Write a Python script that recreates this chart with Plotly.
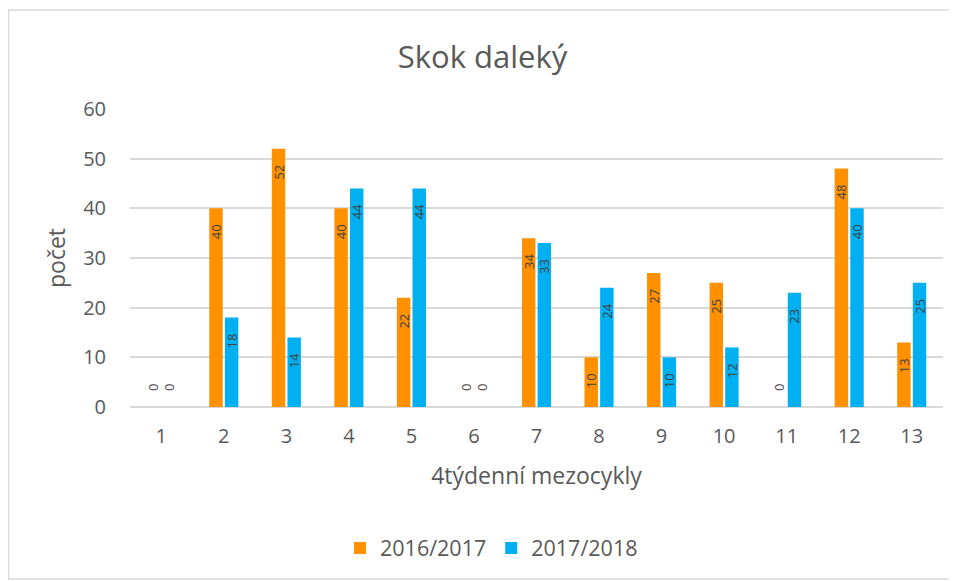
import plotly.graph_objects as go

categories = ["1", "2", "3", "4", "5", "6", "7", "8", "9", "10", "11", "12", "13"]
s1_name = "2016/2017"
s1_values = [0, 40, 52, 40, 22, 0, 34, 10, 27, 25, 0, 48, 13]
s2_name = "2017/2018"
s2_values = [0, 18, 14, 44, 44, 0, 33, 24, 10, 12, 23, 40, 25]
y_ticks = [0, 10, 20, 30, 40, 50, 60]

FONT = "'Open Sans', sans-serif"
GRAY = "#595959"
PAD = "\u2002\u2002"


def bar(name, vals, color):
    return go.Bar(
        name=name, x=categories, y=vals,
        marker=dict(color=color, line=dict(width=0)),
        text=[(PAD + str(v)) if v == 0 else (str(v) + PAD) for v in vals],
        textposition=["outside" if v == 0 else "inside" for v in vals],
        insidetextanchor="end",
        textangle=-90,
        textfont=dict(family=FONT, size=13, color="#404040"),
        constraintext="none",
        cliponaxis=False,
    )


fig = go.Figure([bar(s1_name, s1_values, "#FF9000"), bar(s2_name, s2_values, "#00B0F0")])

OFF = 8  # page body margin
W, H = 957 - OFF, 581 - OFF
L, T = 130 - OFF, 109 - OFF
PLOT_R, PLOT_B = 943 - OFF, 407 - OFF
R, B = W - PLOT_R, H - PLOT_B
pw, ph = W - L - R, H - T - B


def px_x(p):
    return (p - OFF - L) / pw


def px_y(p):
    return (PLOT_B - (p - OFF)) / ph


fig.update_layout(
    width=W, height=H,
    margin=dict(l=L, r=R, t=T, b=B),
    paper_bgcolor="white", plot_bgcolor="white",
    font=dict(family=FONT, color=GRAY),
    title=dict(text="Skok daleký", x=0.5, xanchor="center", y=1 - (57 - OFF) / H, yanchor="middle",
               font=dict(size=31, color=GRAY, family=FONT)),
    barmode="group", bargap=0.5, bargroupgap=0.14,
    showlegend=True,
    legend=dict(orientation="h", x=px_x(340), xanchor="left", y=px_y(548), yanchor="middle",
                font=dict(size=21.5, color=GRAY, family=FONT), traceorder="normal"),
    xaxis=dict(
        type="category", showgrid=False, showline=False, ticks="",
        tickfont=dict(size=20, color=GRAY), ticklabelstandoff=15,
        title=dict(text="4týdenní mezocykly", font=dict(size=23, color=GRAY), standoff=19),
    ),
    yaxis=dict(
        range=[0, 60], tickvals=y_ticks, showgrid=True, gridcolor="#d9d9d9", gridwidth=1.5,
        zeroline=True, zerolinecolor="#d9d9d9", zerolinewidth=1.5, showline=False, ticks="",
        tickfont=dict(size=20, color=GRAY), ticklabelstandoff=23,
        title=dict(text="počet", font=dict(size=23, color=GRAY), standoff=11),
    ),
    shapes=[dict(type="rect", xref="paper", yref="paper",
                 x0=px_x(8.5), x1=px_x(953), y0=px_y(579), y1=px_y(10),
                 line=dict(color="#d9d9d9", width=1.5), layer="below")],
)

fig.write_html("out.html")
